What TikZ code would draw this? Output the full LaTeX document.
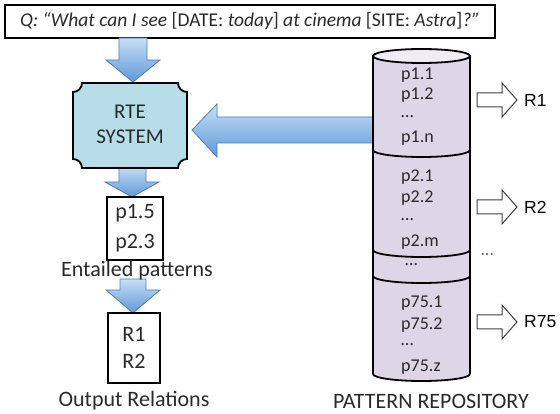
\documentclass[tikz,border=0pt]{standalone}
\usepackage{fontspec}
\setmainfont{Carlito}
\newfontfamily\arialf{Liberation Sans}
\definecolor{rteblue}{HTML}{B7DEE8}
\definecolor{arrtop}{HTML}{C8DEF6}
\definecolor{arrbot}{HTML}{5E9AD8}
\definecolor{arredge}{HTML}{4A7EBB}
\definecolor{cylfill}{HTML}{DCD6E6}
\definecolor{cyltop}{HTML}{EFECF4}
\definecolor{txt}{HTML}{2A2A2A}
\tikzset{
  blockarrow/.style={draw=arredge, line width=0.8pt, top color=arrtop, bottom color=arrbot, line join=miter},
  outarrow/.style={draw=black!75, line width=1pt, fill=white, line join=miter},
  plainbox/.style={draw=black, line width=1.8pt, align=center, inner sep=0pt, text=txt, font=\fontsize{22}{30}\selectfont},
  lbl/.style={text=txt, inner sep=0pt, font=\fontsize{22}{25}\selectfont},
  pat/.style={text=txt, inner sep=0pt, anchor=west, font=\fontsize{18}{20}\selectfont},
  rel/.style={text=black, inner sep=0pt, anchor=west, font=\arialf\fontsize{17.5}{20}\selectfont},
  cylline/.style={draw=black, line width=1.8pt},
}
\begin{document}
\begin{tikzpicture}[x=1pt,y=-1pt]
\useasboundingbox (0,0) rectangle (560,414);
% query
\node[draw=black, line width=1.5pt, minimum width=490pt, minimum height=33pt, inner sep=0pt, text=txt, font=\fontsize{19.5}{22}\selectfont] (q) at (250,21.5)
  {{\itshape Q: “What can I see} [DATE: {\itshape today}] {\itshape at cinema} [SITE: {\itshape Astra}]{\itshape ?”}};
% blue arrows
\path[blockarrow] (119,38) -- (147,38) -- (147,60) -- (160,60) -- (133,82) -- (106,60) -- (119,60) -- cycle;
\path[blockarrow] (119,166) -- (146,166) -- (146,182) -- (159,182) -- (132,197) -- (105,182) -- (119,182) -- cycle;
\path[blockarrow] (120,279) -- (146,279) -- (146,290) -- (160,290) -- (133,313) -- (106,290) -- (120,290) -- cycle;
\path[blockarrow] (373,117) -- (217,117) -- (217,104) -- (192,130) -- (217,157) -- (217,143) -- (373,143) -- cycle;
% RTE plaque
\draw[line width=1.8pt, fill=rteblue]
  (82,83) -- (178,83) arc[start angle=180, end angle=90, radius=9]
  -- (187,159) arc[start angle=270, end angle=180, radius=9]
  -- (82,168) arc[start angle=0, end angle=-90, radius=9]
  -- (73,92) arc[start angle=90, end angle=0, radius=9] -- cycle;
\node[lbl, align=center, font=\fontsize{21}{25}\selectfont] (rte) at (130,124) {RTE\\SYSTEM};
% entailed box
\node[plainbox, minimum width=56pt, minimum height=63pt] (ent) at (135,228.5) {p1.5\\p2.3};
\node[lbl] (entl) at (137,271) {Entailed patterns};
\node[plainbox, minimum width=52pt, minimum height=70pt, font=\fontsize{22}{27}\selectfont] (out) at (134,348) {R1\\R2};
\node[lbl] (outl) at (134,401) {Output Relations};
% cylinder
\fill[cylfill] (373,56) -- (373,374) arc[start angle=180, end angle=0, x radius=48.5, y radius=7] -- (470,56) -- cycle;
\draw[cylline, fill=cyltop] (421.5,56) ellipse[x radius=48.5, y radius=7];
\draw[cylline] (373,56) -- (373,374);
\draw[cylline] (470,56) -- (470,374);
\foreach \yb in {150,250,276,374}
  \draw[cylline] (373,\yb) arc[start angle=180, end angle=0, x radius=48.5, y radius=7];
\node[pat] (p11) at (401,75) {p1.1};
\node[pat] (p12) at (401,95) {p1.2};
\node[pat] (p1d) at (401,117) {…};
\node[pat] (p1n) at (401,138) {p1.n};
\node[pat] (p21) at (401,177) {p2.1};
\node[pat] (p22) at (401,198) {p2.2};
\node[pat] (p2d) at (401,220) {…};
\node[pat] (p2m) at (401,242) {p2.m};
\node[pat] (p3d) at (405,265) {…};
\node[pat] (p751) at (401,303) {p75.1};
\node[pat] (p752) at (401,325) {p75.2};
\node[pat] (p75d) at (401,345) {…};
\node[pat] (p75z) at (401,367) {p75.z};
\node[lbl] (repo) at (431,401) {PATTERN REPOSITORY};
% outline arrows
\foreach \yc/\lab/\nm in {100/R1/r1, 207/R2/r2, 322/R75/r75} {
  \draw[outarrow] (477,\yc-7) -- (502,\yc-7) -- (502,\yc-17) -- (517,\yc) -- (502,\yc+17) -- (502,\yc+7) -- (477,\yc+7) -- cycle;
  \node[rel] (\nm) at (524,\yc) {\lab};
}
\node[pat, text=black!60] (rdots) at (481,255) {…};
\end{tikzpicture}
\end{document}
